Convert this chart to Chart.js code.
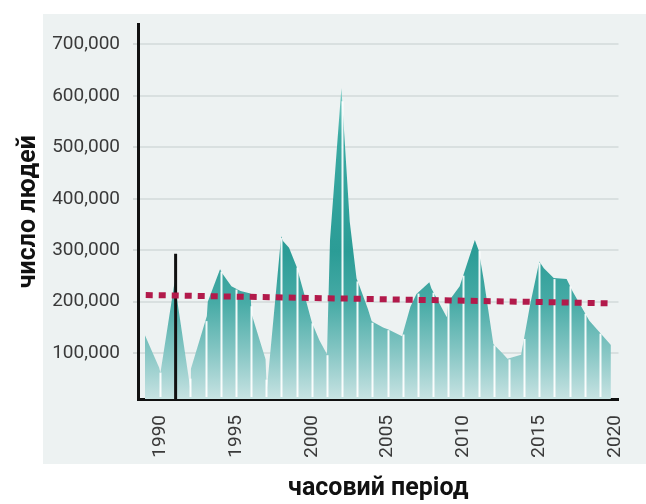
<!DOCTYPE html>
<html>
<head>
<meta charset="utf-8">
<script src="https://cdn.jsdelivr.net/npm/chart.js@4.4.1/dist/chart.umd.min.js"></script>
<style>
  html, body { margin: 0; padding: 0; background: #ffffff; }
  #wrap { position: relative; width: 646px; height: 504px; }
  #panel { position: absolute; left: 43px; top: 14px; width: 603px; height: 450px; background: #edf2f2; }
  #c { position: absolute; left: 0; top: 0; }
</style>
</head>
<body>
<div id="wrap">
  <div id="panel"></div>
  <canvas id="c" width="646" height="504"></canvas>
</div>
<script>
// ---- data ----
const areaYears = [
  1989.00, 1989.93, 1990.02, 1990.95, 1991.97, 1992.03, 1993.08, 1993.14, 1993.95, 1994.10,
  1994.70, 1995.30, 1995.96, 1996.03, 1996.95, 1997.03, 1997.98, 1998.10, 1998.50, 1999.00,
  1999.50, 2000.00, 2000.50, 2001.00, 2001.20, 2001.95, 2002.50, 2002.95, 2003.10, 2003.70,
  2003.95, 2004.70, 2005.05, 2005.95, 2006.50, 2006.90, 2007.75, 2007.88, 2008.90, 2009.00,
  2009.75, 2010.75, 2011.00, 2011.35, 2011.97, 2012.60, 2012.90, 2013.80, 2014.40, 2015.00,
  2015.30, 2015.95, 2016.80, 2017.20, 2018.30, 2019.15, 2019.72
];
const areaValues = [
  135000, 72000, 62000, 238000, 35000, 70000, 172000, 200000, 263000, 255000,
  230000, 221000, 216000, 176000, 88000, 28000, 327000, 318000, 305000, 268000,
  215000, 160000, 125000, 98000, 320000, 615000, 356000, 245000, 234000, 186000,
  162000, 150000, 146000, 133000, 190000, 215000, 238000, 226000, 170000, 200000,
  230000, 320000, 300000, 240000, 118000, 99000, 89000, 97000, 195000, 278000,
  265000, 246000, 244000, 220000, 163000, 135000, 116000
];
const trendYears = [1989.05, 2019.5];
const trendValues = [213000, 197000];
const markerYears = [1991.02, 1991.02];
const markerValues = [293000, 0];
const dividerYears = [1990, 1991, 1992, 1993, 1994, 1995, 1996, 1997, 1998, 1999,
  2000, 2001, 2002, 2003, 2004, 2005, 2006, 2007, 2008, 2009,
  2010, 2011, 2012, 2013, 2014, 2015, 2016, 2017, 2018, 2019];
const xTickValues = [1990, 1995, 2000, 2005, 2010, 2015, 2020];
const yTickValues = [100000, 200000, 300000, 400000, 500000, 600000, 700000];
const xTitle = 'часовий період';
const yTitle = 'число людей';

const toPoints = (xs, ys) => xs.map((x, i) => ({ x: x, y: ys[i] }));

function areaGradient(context) {
  const chart = context.chart;
  const area = chart.chartArea;
  const ys = chart.scales.y;
  if (!area || !ys) return '#5ab3ae';
  const top = ys.getPixelForValue(620000);
  const bottom = ys.getPixelForValue(0);
  const g = chart.ctx.createLinearGradient(0, top, 0, bottom);
  g.addColorStop(0.00, '#86d2cb');
  g.addColorStop(0.16, '#3aaaa3');
  g.addColorStop(0.52, '#2b9c96');
  g.addColorStop(0.68, '#47aba6');
  g.addColorStop(0.84, '#88c7c5');
  g.addColorStop(1.00, '#cfe6e6');
  return g;
}

const yearLines = {
  id: 'yearLines',
  afterDatasetDraw(chart, args) {
    if (args.index !== 2) return;
    const xs = chart.scales.x, ys = chart.scales.y, ctx = chart.ctx;
    const base = chart.chartArea.bottom - 2;
    ctx.save();
    ctx.strokeStyle = 'rgba(255,255,255,0.92)';
    ctx.lineWidth = 2;
    for (const yr of dividerYears) {
      let v = null;
      for (let i = 0; i < areaYears.length - 1; i++) {
        const a = areaYears[i], b = areaYears[i + 1];
        if (yr >= a && yr <= b) {
          const t = (yr - a) / (b - a);
          const val = areaValues[i] + t * (areaValues[i + 1] - areaValues[i]);
          if (v === null || val > v) v = val;
        }
      }
      if (v === null) continue;
      const px = Math.round(xs.getPixelForValue(yr)) + 0.5;
      ctx.beginPath();
      ctx.moveTo(px, base);
      ctx.lineTo(px, ys.getPixelForValue(v) + 1);
      ctx.stroke();
    }
    ctx.restore();
  }
};

new Chart(document.getElementById('c'), {
  type: 'line',
  data: {
    datasets: [
      {
        label: 'trend',
        data: toPoints(trendYears, trendValues),
        borderColor: '#b21a4b',
        borderWidth: 6,
        borderDash: [7, 6],
        borderCapStyle: 'butt',
        pointRadius: 0,
        fill: false,
        order: 1
      },
      {
        label: 'marker',
        data: toPoints(markerYears, markerValues),
        borderColor: '#111111',
        borderWidth: 3,
        pointRadius: 0,
        fill: false,
        order: 2
      },
      {
        label: 'people',
        data: toPoints(areaYears, areaValues),
        borderWidth: 0,
        borderColor: 'rgba(0,0,0,0)',
        backgroundColor: areaGradient,
        fill: 'origin',
        tension: 0,
        pointRadius: 0,
        order: 3
      }
    ]
  },
  options: {
    responsive: false,
    animation: false,
    events: [],
    layout: { padding: { top: 23, right: 9, left: 0, bottom: 0 } },
    plugins: { legend: { display: false }, tooltip: { enabled: false } },
    scales: {
      x: {
        type: 'linear',
        min: 1988.54,
        max: 2020.22,
        afterBuildTicks: (axis) => { axis.ticks = xTickValues.map(v => ({ value: v })); },
        afterFit: (scale) => { scale.height = 105; },
        grid: { display: false },
        border: { display: true, color: '#111111', width: 3 },
        ticks: {
          minRotation: 90,
          maxRotation: 90,
          autoSkip: false,
          padding: 8,
          color: '#3a3a3a',
          font: { family: 'Roboto', size: 19 },
          callback: (v) => String(v)
        },
        title: {
          display: true,
          text: xTitle,
          color: '#111111',
          font: { family: 'Roboto', size: 25, weight: 'bold' },
          padding: { top: 0, bottom: 0 }
        }
      },
      y: {
        type: 'linear',
        min: 11000,
        max: 738700,
        afterBuildTicks: (axis) => { axis.ticks = yTickValues.map(v => ({ value: v })); },
        afterFit: (scale) => { scale.width = 138; },
        grid: { color: '#d9e0e0', lineWidth: 2, drawTicks: true, tickLength: 5, tickColor: '#d3dada' },
        border: { display: true, color: '#111111', width: 3 },
        ticks: {
          padding: 13,
          color: '#3a3a3a',
          font: { family: 'Roboto', size: 19 },
          callback: (v) => v.toLocaleString('en-US')
        },
        title: {
          display: true,
          text: yTitle,
          color: '#111111',
          font: { family: 'Roboto', size: 25, weight: 'bold' },
          padding: { top: 14, bottom: 0 }
        }
      }
    }
  },
  plugins: [yearLines]
});
</script>
</body>
</html>
